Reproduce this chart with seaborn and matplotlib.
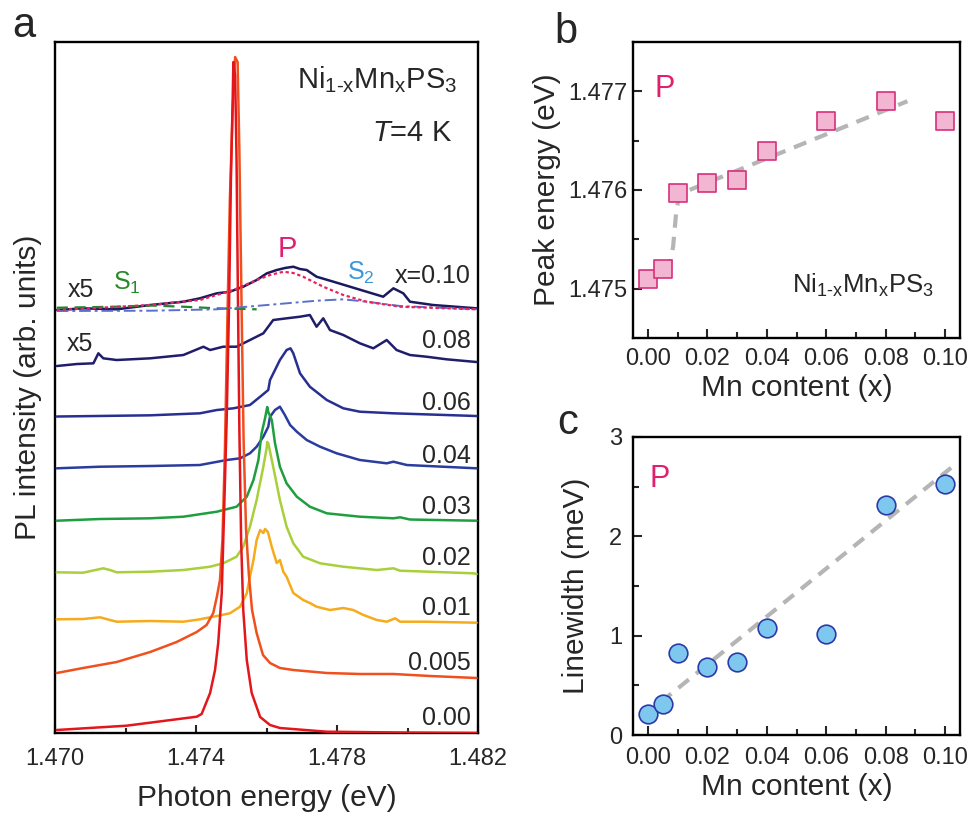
import matplotlib
matplotlib.use("Agg")
import matplotlib.pyplot as plt
import numpy as np
import pandas as pd
import seaborn as sns
from matplotlib.ticker import FixedLocator

# ------------------------------------------------------------------ data
# panel b / c : Mn content, peak energy of P, linewidth of P
mn_content = [0.0, 0.005, 0.01, 0.02, 0.03, 0.04, 0.06, 0.08, 0.10]
peak_energy = [1.4751, 1.4752, 1.47597, 1.47607, 1.4761, 1.4764, 1.4767, 1.4769, 1.4767]
linewidth_mev = [0.21, 0.31, 0.83, 0.68, 0.74, 1.08, 1.02, 2.32, 2.53]
guide_b_x = [0.0, 0.0074, 0.0085, 0.0096, 0.0107, 0.0873]
guide_b_y = [1.47504, 1.47523, 1.47543, 1.4758, 1.47596, 1.4769]
guide_c_x = [-0.0015, 0.102]
guide_c_y = [0.19, 2.69]

# panel a : PL spectra (photon energy in eV, intensity in arb. units)
spec_labels = ["0.00", "0.005", "0.01", "0.02", "0.03", "0.04", "0.06", "0.08", "x=0.10"]
spec_scale = [1, 1, 1, 1, 1, 1, 1, 5, 5]

E_000 = [1.47005, 1.47203, 1.47402, 1.47416, 1.47440, 1.47454, 1.47463, 1.47473, 1.47479,
         1.47487, 1.47494, 1.47499, 1.47504, 1.47506, 1.47511, 1.47515, 1.47519, 1.47523,
         1.47528, 1.47534, 1.47544, 1.47558, 1.47582, 1.47610, 1.47638, 1.47771, 1.47979, 1.48196]
I_000 = [0.03, 0.073, 0.163, 0.19, 0.40, 0.63, 0.90, 1.40, 2.13, 3.13, 4.33, 5.53, 6.33, 6.71,
         6.58, 5.73, 4.33, 3.03, 1.93, 1.23, 0.73, 0.40, 0.16, 0.08, 0.05, 0.013, 0.005, 0.0]

E_005 = [1.47005, 1.47080, 1.47175, 1.47270, 1.47345, 1.47402, 1.47430, 1.47449, 1.47459,
         1.47468, 1.47475, 1.47482, 1.47489, 1.47496, 1.47504, 1.47511, 1.47518, 1.47523,
         1.47529, 1.47535, 1.47542, 1.47550, 1.47559, 1.47572, 1.47590, 1.47610, 1.47638,
         1.47676, 1.47771, 1.47865, 1.47960, 1.48064, 1.48196]
I_005 = [0.05, 0.10, 0.16, 0.26, 0.36, 0.46, 0.53, 0.65, 0.81, 0.98, 1.38, 2.28, 3.58, 4.78,
         5.68, 6.21, 6.16, 5.28, 3.78, 2.38, 1.48, 1.03, 0.68, 0.45, 0.23, 0.15, 0.10, 0.08,
         0.05, 0.04, 0.04, 0.02, 0.0]

E_010 = [1.47005, 1.47080, 1.47128, 1.47156, 1.47175, 1.47270, 1.47364, 1.47411, 1.47459,
         1.47496, 1.47525, 1.47544, 1.47553, 1.47563, 1.47572, 1.47582, 1.47591, 1.47596,
         1.47604, 1.47615, 1.47629, 1.47638, 1.47648, 1.47657, 1.47676, 1.47704, 1.47723,
         1.47742, 1.47780, 1.47818, 1.47846, 1.47875, 1.47913, 1.47941, 1.47965, 1.47979,
         1.48054, 1.48196]
I_010 = [0.037, 0.04, 0.057, 0.03, 0.013, 0.02, 0.013, 0.037, 0.07, 0.097, 0.163, 0.297,
         0.463, 0.63, 0.83, 0.93, 0.90, 0.94, 0.91, 0.76, 0.60, 0.63, 0.51, 0.463, 0.30, 0.23,
         0.20, 0.163, 0.13, 0.15, 0.13, 0.08, 0.03, 0.013, 0.047, 0.013, 0.013, 0.003]

E_020 = [1.47005, 1.47080, 1.47137, 1.47156, 1.47175, 1.47270, 1.47364, 1.47440, 1.47477,
         1.47515, 1.47534, 1.47553, 1.47572, 1.47591, 1.47601, 1.47602, 1.47605, 1.47619,
         1.47638, 1.47657, 1.47676, 1.47704, 1.47752, 1.47818, 1.47913, 1.47960, 1.47979,
         1.48187, 1.48196]
I_020 = [0.017, 0.013, 0.057, 0.04, 0.017, 0.023, 0.04, 0.073, 0.107, 0.173, 0.273, 0.473,
         0.74, 1.073, 1.273, 1.32, 1.307, 1.073, 0.74, 0.473, 0.307, 0.173, 0.107, 0.073,
         0.04, 0.057, 0.033, 0.007, 0.0]

E_030 = [1.47005, 1.47128, 1.47270, 1.47364, 1.47459, 1.47515, 1.47544, 1.47563, 1.47577,
         1.47586, 1.47596, 1.47602, 1.47605, 1.47615, 1.47624, 1.47638, 1.47657, 1.47686,
         1.47723, 1.47771, 1.47865, 1.47960, 1.47979, 1.48007, 1.48196]
I_030 = [0.003, 0.02, 0.027, 0.043, 0.093, 0.143, 0.243, 0.41, 0.61, 0.877, 1.03, 1.14, 1.09,
         1.01, 0.78, 0.543, 0.377, 0.243, 0.143, 0.077, 0.043, 0.027, 0.037, 0.015, 0.003]

E_040 = [1.47005, 1.47128, 1.47270, 1.47411, 1.47487, 1.47525, 1.47553, 1.47572, 1.47591,
         1.47605, 1.47610, 1.47624, 1.47638, 1.47647, 1.47652, 1.47667, 1.47686, 1.47714,
         1.47752, 1.47799, 1.47865, 1.47941, 1.47960, 1.47998, 1.48196]
I_040 = [0.007, 0.023, 0.03, 0.04, 0.09, 0.107, 0.157, 0.223, 0.323, 0.423, 0.523, 0.59,
         0.623, 0.57, 0.54, 0.44, 0.373, 0.29, 0.223, 0.157, 0.09, 0.057, 0.073, 0.04, 0.007]

E_060 = [1.47005, 1.47270, 1.47411, 1.47459, 1.47506, 1.47553, 1.47582, 1.47605, 1.47610,
         1.47638, 1.47657, 1.47668, 1.47676, 1.47695, 1.47723, 1.47771, 1.47818, 1.47865,
         1.47960, 1.48196]
I_060 = [0.005, 0.017, 0.037, 0.07, 0.087, 0.12, 0.203, 0.27, 0.37, 0.57, 0.67, 0.687, 0.637,
         0.437, 0.303, 0.17, 0.087, 0.053, 0.037, 0.01]

E_080 = [1.47005, 1.47062, 1.47109, 1.47123, 1.47137, 1.47175, 1.47270, 1.47364, 1.47421,
         1.47440, 1.47477, 1.47515, 1.47553, 1.47591, 1.47619, 1.47657, 1.47695, 1.47723,
         1.47742, 1.47761, 1.47780, 1.47818, 1.47865, 1.47903, 1.47941, 1.47969, 1.48007,
         1.48054, 1.48111, 1.48196]
I_080 = [0.0, 0.004, 0.0054, 0.0254, 0.0154, 0.012, 0.0154, 0.022, 0.0386, 0.032, 0.0386,
         0.0386, 0.052, 0.0654, 0.092, 0.0954, 0.0986, 0.102, 0.0786, 0.0954, 0.072, 0.062,
         0.0454, 0.0354, 0.052, 0.032, 0.022, 0.0186, 0.0134, 0.008]

E_100 = [1.47005, 1.47080, 1.47175, 1.47270, 1.47364, 1.47411, 1.47459, 1.47496, 1.47534,
         1.47572, 1.47601, 1.47629, 1.47652, 1.47676, 1.47695, 1.47714, 1.47742, 1.47790,
         1.47837, 1.47884, 1.47931, 1.47960, 1.47988, 1.48007, 1.48073, 1.48196]
I_100 = [0.002, 0.0054, 0.0034, 0.012, 0.0186, 0.0254, 0.0354, 0.0386, 0.0486, 0.062, 0.0754,
         0.082, 0.086, 0.0886, 0.084, 0.082, 0.0686, 0.0586, 0.0486, 0.0386, 0.0286, 0.0454,
         0.0354, 0.0186, 0.012, 0.0054]

# fitted components of the x=0.10 spectrum (same x5 scale)
E_fitP = [1.47005, 1.47270, 1.47411, 1.47506, 1.47572, 1.47610, 1.47648, 1.47676, 1.47704,
          1.47761, 1.47818, 1.47884, 1.47979, 1.48196]
I_fitP = [0.002, 0.012, 0.022, 0.042, 0.062, 0.072, 0.0786, 0.076, 0.0686, 0.0486, 0.032,
          0.0186, 0.0086, 0.0034]
E_fitS2 = [1.47005, 1.47270, 1.47459, 1.47601, 1.47742, 1.47818, 1.47884, 1.47979, 1.48196]
I_fitS2 = [0.0, 0.0006, 0.0034, 0.012, 0.0206, 0.0234, 0.0186, 0.01, 0.0034]
E_fitS1 = [1.47005, 1.47175, 1.47270, 1.47364, 1.47459, 1.47572]
I_fitS1 = [0.0066, 0.0086, 0.011, 0.0086, 0.0054, 0.0034]

spectra_E = [E_000, E_005, E_010, E_020, E_030, E_040, E_060, E_080, E_100]
spectra_I = [I_000, I_005, I_010, I_020, I_030, I_040, I_060, I_080, I_100]

# ------------------------------------------------------------------ style / layout
spec_offsets = [0.0, 0.55, 1.10, 1.59, 2.12, 2.64, 3.16, 3.67, 4.22]
spec_colors = ["#e3161c", "#f0501e", "#f6ab1c", "#a9cf3a", "#1f9e40",
               "#2a3c9c", "#272f92", "#201e6c", "#1c1a5e"]
label_baselines = [0.08, 0.63, 1.18, 1.68, 2.19, 2.70, 3.23, 3.85, 4.50]
PINK = "#e0206e"

sns.set_theme(style="ticks")
plt.rcParams["font.family"] = ["Liberation Sans", "DejaVu Sans"]
plt.rcParams["mathtext.fontset"] = "custom"
plt.rcParams["mathtext.rm"] = "Liberation Sans"
plt.rcParams["mathtext.it"] = "Liberation Sans:italic"
plt.rcParams["axes.linewidth"] = 1.7
plt.rcParams["axes.edgecolor"] = "black"

fig = plt.figure(figsize=(9.70, 8.13), dpi=100)
axa = fig.add_axes([0.0567, 0.0984, 0.4361, 0.8499])
axb = fig.add_axes([0.6526, 0.5843, 0.3371, 0.3640])
axc = fig.add_axes([0.6526, 0.0959, 0.3371, 0.3666])

# ---------------- panel a
for i in range(len(spectra_E) - 1, -1, -1):
    df = pd.DataFrame({"E": spectra_E[i],
                       "I": np.array(spectra_I[i]) * spec_scale[i] + spec_offsets[i]})
    sns.lineplot(data=df, x="E", y="I", ax=axa, color=spec_colors[i], lw=1.8,
                 estimator=None, sort=False, zorder=3 + (len(spectra_E) - i) * 0.01)

off10, sc10 = spec_offsets[8], spec_scale[8]
sns.lineplot(x=E_fitS1, y=np.array(I_fitS1) * sc10 + off10, ax=axa, color="#23862a",
             lw=1.6, estimator=None, sort=False, zorder=4, linestyle=(0, (5, 3)))
sns.lineplot(x=E_fitS2, y=np.array(I_fitS2) * sc10 + off10, ax=axa, color="#5b6fd0",
             lw=1.4, estimator=None, sort=False, zorder=4, linestyle=(0, (6, 2, 1.5, 2)))
sns.lineplot(x=E_fitP, y=np.array(I_fitP) * sc10 + off10, ax=axa, color="#e8245a",
             lw=1.6, estimator=None, sort=False, zorder=4, linestyle=(0, (1.5, 1.2)))

axa.set_xlim(1.470, 1.482)
axa.set_ylim(0, 6.91)
axa.set_yticks([])
axa.xaxis.set_major_locator(FixedLocator([1.470, 1.474, 1.478, 1.482]))
axa.set_xticklabels(["1.470", "1.474", "1.478", "1.482"])
axa.xaxis.set_minor_locator(FixedLocator([1.472, 1.476, 1.480]))
axa.tick_params(axis="x", which="major", direction="in", length=6, width=1.5,
                pad=11, labelsize=17)
axa.tick_params(axis="x", which="minor", direction="in", length=3.5, width=1.5)
axa.set_xlabel("Photon energy (eV)", fontsize=21.5, va="center")
axa.xaxis.set_label_coords(0.5, -0.094)
axa.set_ylabel("PL intensity (arb. units)", fontsize=21.5, va="center")
axa.yaxis.set_label_coords(-0.064, 0.5)

for lab, yb in zip(spec_labels, label_baselines):
    axa.text(1.48180, yb, lab, ha="right", va="baseline", fontsize=18, zorder=6)
axa.text(1.48140, 6.45, r"Ni$_{\mathregular{1\text{-}x}}$Mn$_{\mathregular{x}}$PS$_{\mathregular{3}}$",
         ha="right", va="baseline", fontsize=21)
axa.text(1.48126, 5.92, r"$\mathit{T}$=4 K", ha="right", va="baseline", fontsize=21)
axa.text(1.47658, 4.76, "P", ha="center", va="baseline", fontsize=21, color=PINK)
axa.text(1.47165, 4.43, r"S$_{\mathregular{1}}$", ha="left", va="baseline", fontsize=18,
         color="#2a8a2a")
axa.text(1.47828, 4.53, r"S$_{\mathregular{2}}$", ha="left", va="baseline", fontsize=18,
         color="#3a98d8")
axa.text(1.47037, 4.36, "x5", ha="left", va="baseline", fontsize=18)
axa.text(1.47034, 3.82, "x5", ha="left", va="baseline", fontsize=18)

# ---------------- panel b
sns.lineplot(x=guide_b_x, y=guide_b_y, ax=axb, color="#b5b5b5", lw=3.0,
             estimator=None, sort=False, linestyle=(0, (3.2, 2.2)), zorder=2)
sns.scatterplot(x=mn_content, y=peak_energy, ax=axb, marker="s", s=155,
                color="#f2b6d3", edgecolor="#d8307a", linewidth=1.2, zorder=3)
axb.set_xlim(-0.005, 0.105)
axb.set_ylim(1.4745, 1.4775)
axb.yaxis.set_major_locator(FixedLocator([1.475, 1.476, 1.477]))
axb.set_yticklabels(["1.475", "1.476", "1.477"])
axb.yaxis.set_minor_locator(FixedLocator([1.4755, 1.4765]))
axb.xaxis.set_major_locator(FixedLocator([0.0, 0.02, 0.04, 0.06, 0.08, 0.10]))
axb.set_xticklabels(["0.00", "0.02", "0.04", "0.06", "0.08", "0.10"])
axb.xaxis.set_minor_locator(FixedLocator([0.01, 0.03, 0.05, 0.07, 0.09]))
axb.tick_params(axis="both", which="major", direction="in", length=6.5, width=1.5,
                labelsize=17)
axb.tick_params(axis="both", which="minor", direction="in", length=4, width=1.5)
axb.tick_params(axis="x", which="major", pad=7)
axb.tick_params(axis="y", which="major", pad=4)
axb.set_xlabel("Mn content (x)", fontsize=21.5, va="center")
axb.xaxis.set_label_coords(0.5, -0.169)
axb.set_ylabel("Peak energy (eV)", fontsize=21.5, va="center")
axb.yaxis.set_label_coords(-0.262, 0.5)
axb.text(0.00235, 1.47694, "P", ha="left", va="baseline", fontsize=22, color=PINK)
axb.text(0.0963, 1.47496, r"Ni$_{\mathregular{1\text{-}x}}$Mn$_{\mathregular{x}}$PS$_{\mathregular{3}}$",
         ha="right", va="baseline", fontsize=18.5)

# ---------------- panel c
sns.lineplot(x=guide_c_x, y=guide_c_y, ax=axc, color="#b5b5b5", lw=3.0,
             estimator=None, sort=False, linestyle=(0, (3.2, 2.2)), zorder=2)
sns.scatterplot(x=mn_content, y=linewidth_mev, ax=axc, marker="o", s=180,
                color="#7ec8f0", edgecolor="#2a3aa8", linewidth=1.2, zorder=3)
axc.set_xlim(-0.005, 0.105)
axc.set_ylim(0, 3)
axc.yaxis.set_major_locator(FixedLocator([0, 1, 2, 3]))
axc.yaxis.set_minor_locator(FixedLocator([0.5, 1.5, 2.5]))
axc.xaxis.set_major_locator(FixedLocator([0.0, 0.02, 0.04, 0.06, 0.08, 0.10]))
axc.set_xticklabels(["0.00", "0.02", "0.04", "0.06", "0.08", "0.10"])
axc.xaxis.set_minor_locator(FixedLocator([0.01, 0.03, 0.05, 0.07, 0.09]))
axc.tick_params(axis="both", which="major", direction="in", length=6.5, width=1.5,
                labelsize=17)
axc.tick_params(axis="both", which="minor", direction="in", length=4, width=1.5)
axc.tick_params(axis="x", which="major", pad=8.5)
axc.tick_params(axis="y", which="major", pad=8)
axc.set_xlabel("Mn content (x)", fontsize=21.5, va="center")
axc.xaxis.set_label_coords(0.5, -0.174)
axc.set_ylabel("Linewidth (meV)", fontsize=21.5, va="center")
axc.yaxis.set_label_coords(-0.174, 0.5)
axc.text(0.0007, 2.50, "P", ha="left", va="baseline", fontsize=22, color=PINK)

for ax in (axa, axb, axc):
    for sp in ax.spines.values():
        sp.set_visible(True)
        sp.set_linewidth(1.7)
        sp.set_color("black")
    leg = ax.get_legend()
    if leg is not None:
        leg.remove()

fig.text(0.013, 0.9545, "a", fontsize=30, ha="left", va="baseline")
fig.text(0.572, 0.947, "b", fontsize=30, ha="left", va="baseline")
fig.text(0.574, 0.466, "c", fontsize=30, ha="left", va="baseline")

fig.savefig("out.png", dpi=100, facecolor="white")
